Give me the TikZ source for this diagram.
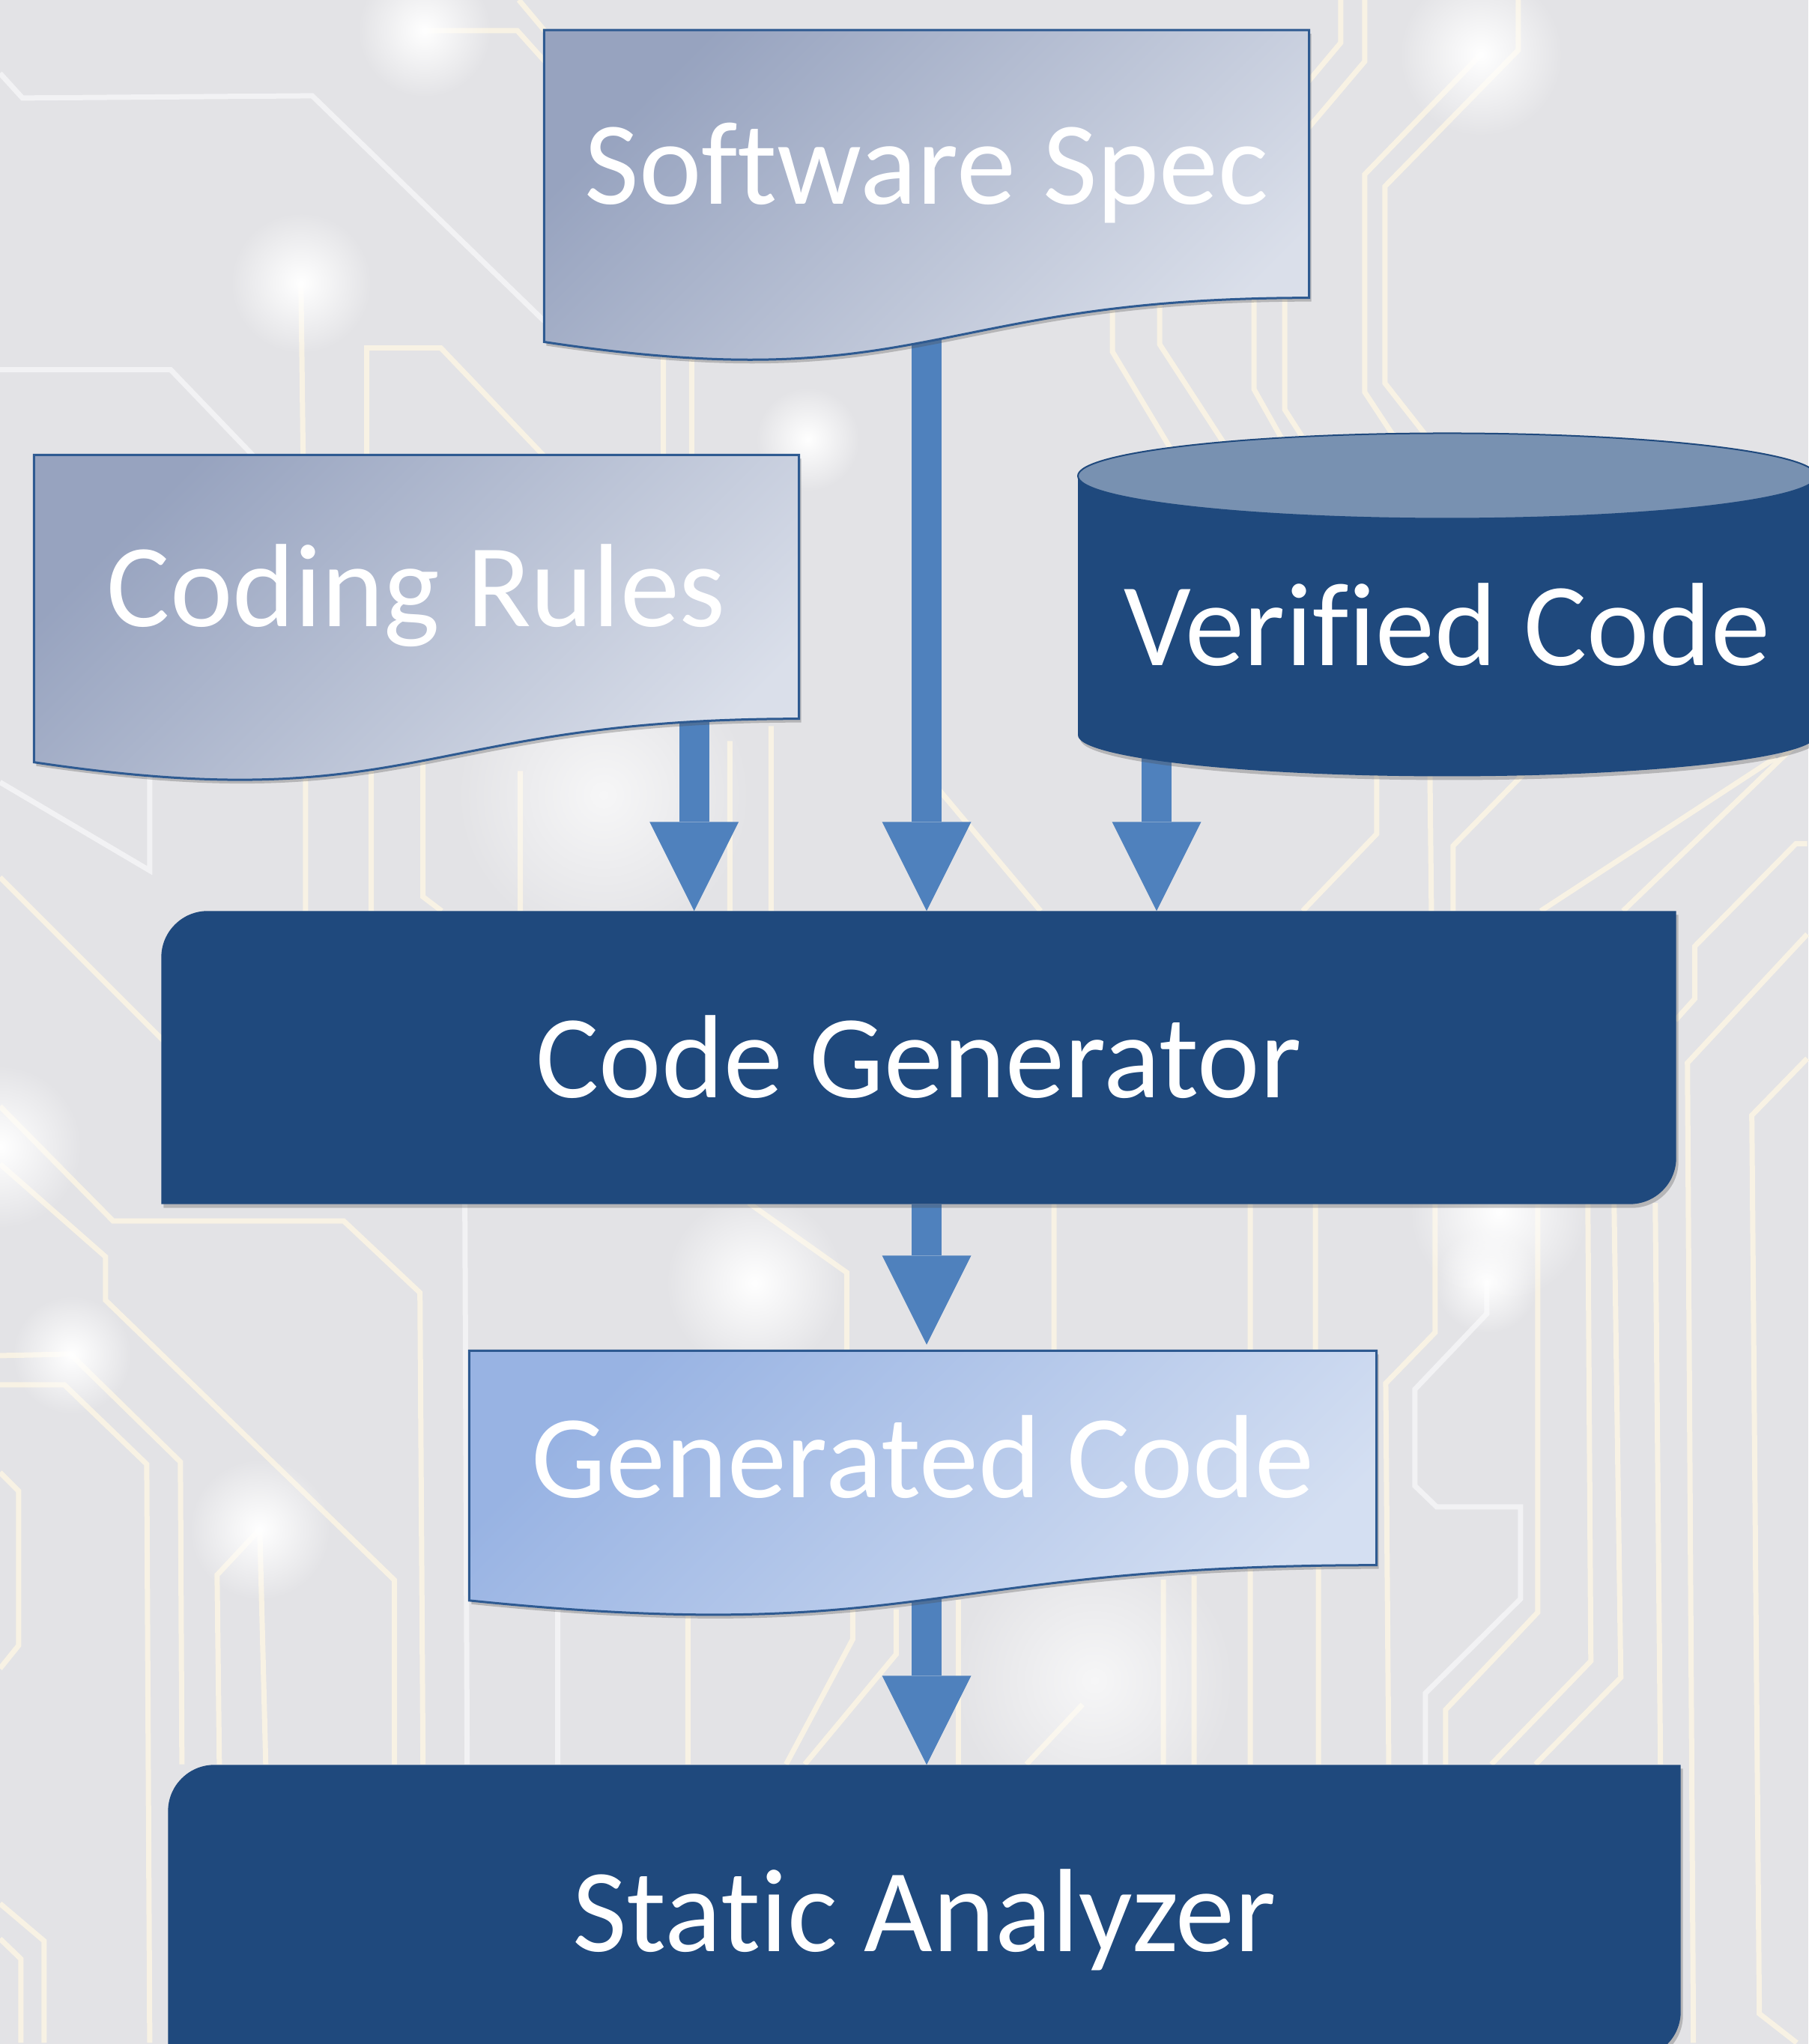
\documentclass[tikz,border=0pt]{standalone}
\usepackage{fontspec}
\setmainfont{Carlito}[Ligatures={NoCommon}, RawFeature={-liga;-clig;-dlig}]
\usetikzlibrary{arrows.meta,calc,shadows,fadings}

\definecolor{slate}{HTML}{E3E3E6}
\definecolor{traceline}{HTML}{F8F2E4}
\definecolor{navy}{HTML}{1F497D}
\definecolor{lid}{HTML}{7891B1}
\definecolor{flowblue}{HTML}{4F81BD}
\definecolor{edgeblue}{HTML}{2E5A91}
\definecolor{paperdark}{HTML}{97A3BF}
\definecolor{paperlight}{HTML}{DADFEA}
\definecolor{codedark}{HTML}{98B3E3}
\definecolor{codelight}{HTML}{D4DFF2}

\pgfdeclarelayer{backdrop}
\pgfdeclarelayer{links}
\pgfdeclarelayer{shapes}
\pgfsetlayers{backdrop,links,shapes,main}

\tikzfading[name=glowfade, inner color=transparent!0, outer color=transparent!100]

% document outline with a wavy bottom
\newcommand{\wavepath}[1]{(#1.north west) -- (#1.north east) -- (#1.south east)
  .. controls (#1.south) and ($(#1.south)!-0.381!(#1.north)$) .. ($(#1.south west)!-0.1646!(#1.north west)$) -- cycle}

% box with two round corners
\newcommand{\cornerpath}[1]{(#1.south west) -- ([yshift=-0.62cm]#1.north west)
  arc[start angle=180, end angle=90, radius=0.62cm] -- (#1.north east) -- ([yshift=0.62cm]#1.south east)
  arc[start angle=0, end angle=-90, radius=0.62cm] -- cycle}

\tikzset{
  caption/.style={text=white, font=\fontsize{45}{54}\selectfont, inner sep=0pt, text height=1.07cm, text depth=0cm},
  soft shadow/.style={drop shadow={shadow xshift=0.03cm, shadow yshift=-0.05cm, opacity=0.3, fill=black!70}},
  paper/.style={soft shadow, draw=edgeblue, line width=0.03cm, top color=paperdark, bottom color=paperlight, shading angle=45},
  codepaper/.style={paper, top color=codedark, bottom color=codelight, shading angle=45},
  block/.style={soft shadow, fill=navy},
  drum/.style={soft shadow, fill=navy},
  drum lid/.style={fill=lid, draw=navy, line width=0.02cm},
  flow/.style={draw=flowblue, line width=0.4cm, -{Triangle[length=1.19cm, width=1.19cm, line width'=0pt]}},
  trace/.style={draw=traceline, line width=0.07cm},
  faint/.style={draw=white!55!slate, line width=0.07cm},
  glow/.style={fill=white, path fading=glowfade}
}

\begin{document}
\begin{tikzpicture}
  \useasboundingbox (0,0) rectangle (24.14,27.29);

  \node[caption, minimum width=10.20cm, minimum height=3.56cm] (spec) at (12.37,25.10) {Software Spec};

  \node[caption, minimum width=10.20cm, minimum height=3.51cm] (rules) at (5.56,19.455) {Coding Rules};

  \node[caption] (store) at (19.32,18.935) {Verified Code};

  \node[caption, minimum width=20.21cm, minimum height=3.90cm] (gen) at (12.265,13.17) {Code Generator};

  \node[caption, minimum width=12.10cm, minimum height=2.85cm] (out) at (12.32,7.825) {Generated Code};

  \node[caption, minimum width=20.18cm, minimum height=3.90cm] (check) at (12.34,1.77) {Static Analyzer};

  \coordinate (rules-out) at ([xshift=-1.40cm]rules.south east);
  \coordinate (store-out) at ([xshift=-3.88cm]store.center);
  \coordinate (out-top) at ([yshift=0.08cm]out.north);

  \begin{pgfonlayer}{shapes}
    \path[paper] \wavepath{spec};
    \path[paper] \wavepath{rules};
    \path[codepaper] \wavepath{out};
    \path[block] \cornerpath{gen};
    \path[block] \cornerpath{check};
    \path[drum] ([shift={(-4.93,2.0)}]store.center) -- ([shift={(-4.93,-1.46)}]store.center)
      arc[start angle=180, end angle=360, x radius=4.93cm, y radius=0.55cm] -- ([shift={(4.93,2.0)}]store.center) -- cycle;
    \path[drum lid] ([shift={(0,2.0)}]store.center) ellipse[x radius=4.93cm, y radius=0.57cm];
  \end{pgfonlayer}

  \begin{pgfonlayer}{links}
    \draw[flow] (spec.south) -- (spec.south |- gen.north);
    \draw[flow] (rules-out) -- (rules-out |- gen.north);
    \draw[flow] (store-out) -- (store-out |- gen.north);
    \draw[flow] (gen.south -| spec.south) -- (out-top -| spec.south);
    \draw[flow] (out.south -| spec.south) -- (check.north -| spec.south);
  \end{pgfonlayer}

  \begin{pgfonlayer}{backdrop}
    \fill[slate] (0,0) rectangle (24.14,27.29);
    \begin{scope}[yshift=27.29cm, x=0.01cm, y=-0.01cm]
      % circuit traces, top
      \draw[trace] (567,41) -- (691,41) -- (760,118)
        (693,0) -- (745,62)
        (402,378) -- (405,620)
        (490,620) -- (490,465) -- (589,465) -- (737,620)
        (886,470) -- (886,620)
        (924,470) -- (924,620);
      \draw[faint] (0,98) -- (30,131) -- (417,128) -- (727,429)
        (0,494) -- (228,494) -- (349,620);
      \draw[trace] (1791,0) -- (1791,57) -- (1740,118)
        (1823,0) -- (1823,82) -- (1740,180)
        (1978,73) -- (1823,233) -- (1823,524) -- (1873,600)
        (2028,0) -- (2028,67) -- (1850,249) -- (1850,512) -- (1919,600)
        (1716,390) -- (1716,547) -- (1750,600)
        (1486,400) -- (1486,470) -- (1570,610)
        (1549,400) -- (1549,460) -- (1640,600)
        (1675,400) -- (1675,520) -- (1720,600);

      % between the inputs and the generator
      \draw[trace] (0,1172) -- (225,1397)
        (408,1030) -- (408,1217)
        (496,1030) -- (496,1217)
        (565,1010) -- (565,1198) -- (590,1217)
        (695,1030) -- (695,1217)
        (975,990) -- (975,1217)
        (1030,970) -- (1030,1217)
        (1250,1050) -- (1390,1217);
      \draw[faint] (0,1045) -- (200,1163) -- (200,1030);

      % right side
      \draw[trace] (1839,1030) -- (1839,1114) -- (1740,1217)
        (1910,1030) -- (1912,1217)
        (1941,1217) -- (1941,1130) -- (2035,1034)
        (2058,1217) -- (2372,1012)
        (2168,1217) -- (2414,980)
        (2238,1363) -- (2264,1334) -- (2264,1264) -- (2399,1127) -- (2414,1127)
        (2414,1248) -- (2254,1420) -- (2262,2729)
        (2414,1414) -- (2340,1490) -- (2350,2690) -- (2400,2729)
        (1917,1607) -- (1917,1780) -- (1851,1848) -- (1855,2357)
        (2054,1607) -- (2054,2154) -- (1931,2284) -- (1931,2357)
        (2121,1607) -- (2125,2219) -- (1992,2357)
        (2156,1607) -- (2165,2241) -- (2051,2357)
        (2211,1607) -- (2218,2357);
      \draw[faint] (1986,1712) -- (1986,1755) -- (1890,1856) -- (1890,1985) -- (1919,2013)
        -- (2031,2013) -- (2031,2136) -- (1904,2262) -- (1904,2357);

      % left side
      \draw[trace] (0,1478) -- (151,1631) -- (459,1631) -- (561,1727) -- (565,2357)
        (0,1555) -- (141,1679) -- (141,1737) -- (527,2111) -- (527,2357)
        (0,1811) -- (94,1809) -- (241,1953) -- (243,2357)
        (0,1850) -- (86,1850) -- (196,1956) -- (200,2729)
        (347,2043) -- (355,2357)
        (347,2043) -- (290,2104) -- (293,2357)
        (0,1967) -- (25,1992) -- (25,2198) -- (0,2229)
        (0,2543) -- (59,2593) -- (59,2729)
        (0,2590) -- (28,2617) -- (28,2729);

      % middle
      \draw[trace] (1000,1607) -- (1131,1700) -- (1131,1810)
        (1408,1607) -- (1408,1810)
        (1670,1607) -- (1670,1810)
        (1757,1607) -- (1757,1810)
        (919,2137) -- (919,2357)
        (1139,2137) -- (1139,2190) -- (1050,2357)
        (1197,2150) -- (1197,2210) -- (1075,2357)
        (1280,2137) -- (1280,2357)
        (1554,2110) -- (1554,2357)
        (1595,2105) -- (1595,2357)
        (1670,2095) -- (1670,2357)
        (1761,2090) -- (1761,2357)
        (1446,2277) -- (1371,2357);
      \draw[faint] (621,1607) -- (624,2357) (745,2137) -- (745,2357);

      % glowing pads
      \fill[glow] (567,41) circle[radius=90];
      \fill[glow] (402,378) circle[radius=95];
      \fill[glow] (1978,73) circle[radius=110];
      \fill[glow] (96,1810) circle[radius=80];
      \fill[glow] (347,2043) circle[radius=95];
      \fill[glow] (1986,1712) circle[radius=70];
      \fill[glow] (1008,1714) circle[radius=120];
      \fill[glow, opacity=0.7] (806,1062) circle[radius=200];
      \fill[glow, opacity=0.7] (1462,2245) circle[radius=190];
      \fill[glow] (1079,587) circle[radius=70];
      \fill[glow] (2002,1619) circle[radius=120];
      \fill[glow] (0,1532) circle[radius=110];
    \end{scope}
  \end{pgfonlayer}
\end{tikzpicture}
\end{document}
